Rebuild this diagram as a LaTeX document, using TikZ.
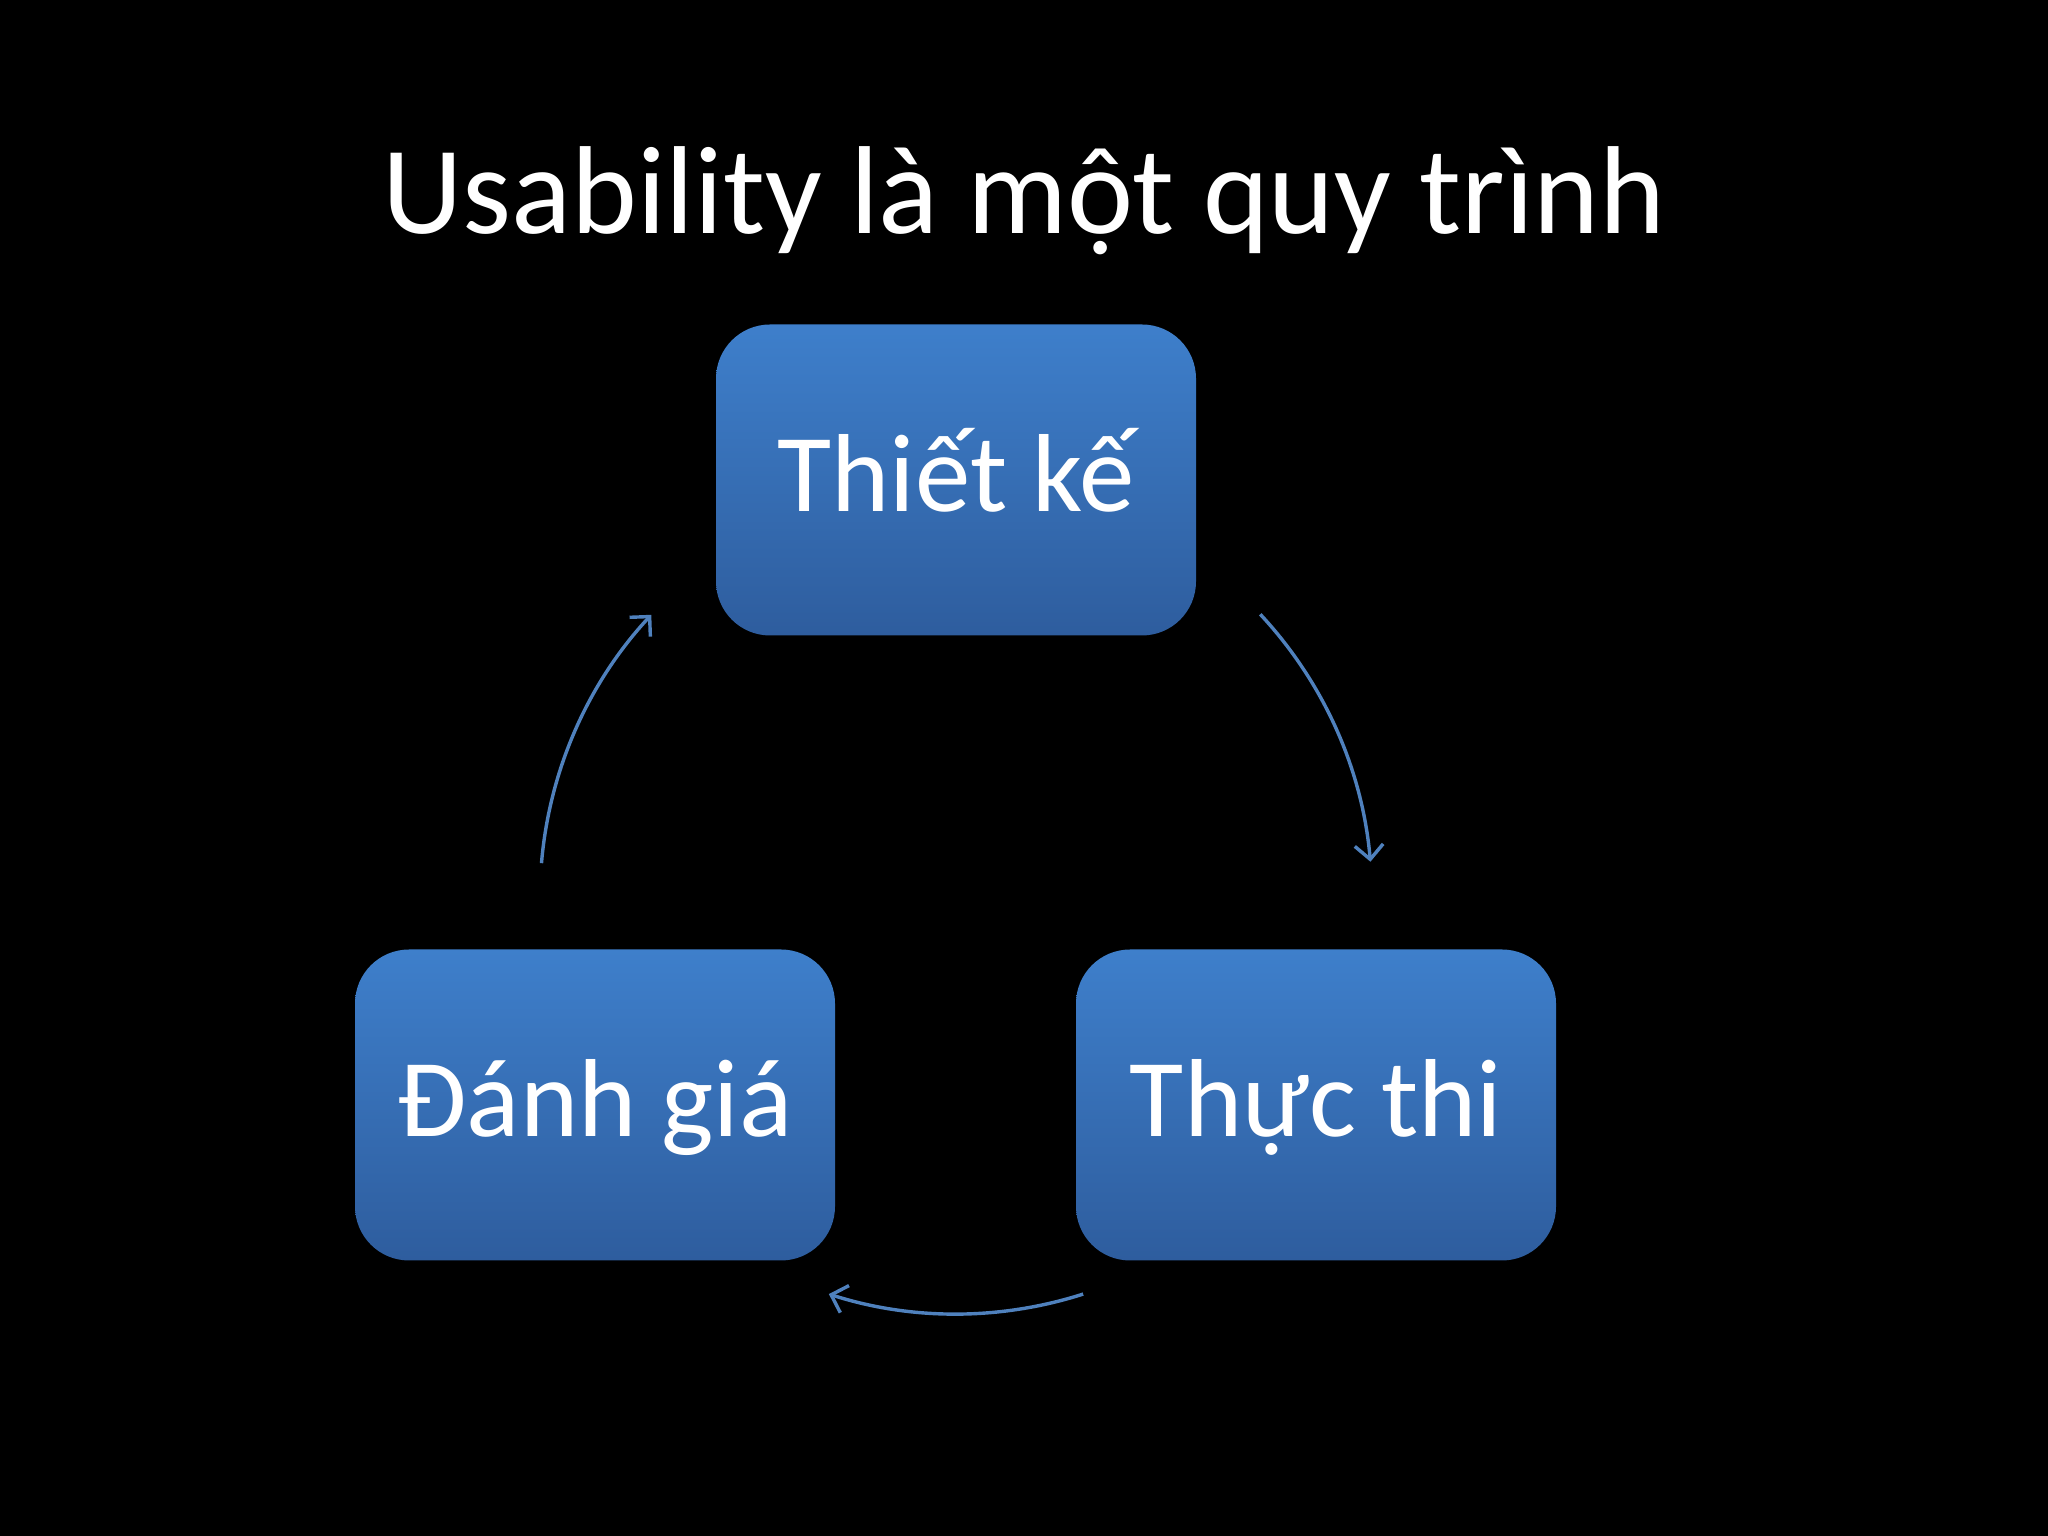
\documentclass[tikz,border=0pt]{standalone}
\usepackage{fontspec}
\setmainfont{Carlito}
\usetikzlibrary{arrows.meta}
\definecolor{boxtop}{RGB}{62,127,203}
\definecolor{boxbot}{RGB}{46,93,158}
\definecolor{arrowblue}{RGB}{79,129,189}
\tikzset{
  stepbox/.style={rounded corners=19pt, minimum width=480*0.3515625pt, minimum height=311*0.3515625pt,
    top color=boxtop, bottom color=boxbot, draw=none, inner sep=0pt},
  boxtext/.style={text=white, font=\fontsize{39}{41}\selectfont, anchor=base},
  cyc/.style={draw=arrowblue, line width=1.2pt, -{Straight Barb[length=5pt,width=10pt,line width=1.2pt]}}
}
\begin{document}
\begin{tikzpicture}[x=0.3515625pt,y=0.3515625pt]
\fill[black] (0,0) rectangle (2048,1536);
\useasboundingbox (0,0) rectangle (2048,1536);
% title
\node[text=white, font=\fontsize{44}{48}\selectfont, anchor=base, inner sep=0pt] (title) at (1024,1302) {Usability là một quy trình};
% boxes
\node[stepbox] (design) at (956,1056) {};
\node[stepbox] (impl) at (1316,431) {};
\node[stepbox] (eval) at (595,431) {};
\node[boxtext, inner sep=0pt] (designlbl) at ([yshift=-32*0.3515625pt]design.center) {Thiết kế};
\node[boxtext, inner sep=0pt] (impllbl) at ([yshift=-32*0.3515625pt]impl.center) {Thực thi};
\node[boxtext, inner sep=0pt] (evallbl) at ([yshift=-32*0.3515625pt]eval.center) {Đánh giá};
% cycle arrows
\coordinate (ctr) at (956,638);
\draw[cyc] (ctr) ++(43:416) coordinate (a1) arc[start angle=43, end angle=5, radius=416];
\draw[cyc] (ctr) ++(-72.2:416) coordinate (a2) arc[start angle=-72.2, end angle=-107.8, radius=416];
\draw[cyc] (ctr) ++(175.2:416) coordinate (a3) arc[start angle=175.2, end angle=137.1, radius=416];
\end{tikzpicture}
\end{document}
